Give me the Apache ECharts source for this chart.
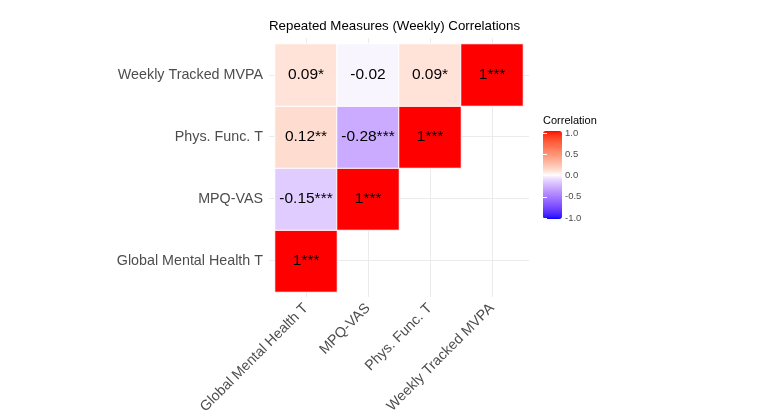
<!DOCTYPE html>
<html>
<head>
<meta charset="utf-8">
<script src="https://cdn.jsdelivr.net/npm/echarts@6/dist/echarts.min.js"></script>
<style>
html,body{margin:0;padding:0;background:#fff;}
#chart{width:770px;height:420px;}
</style>
</head>
<body>
<div id="chart"></div>
<script>
// ---- data ----
const variables = ['Global Mental Health T', 'MPQ-VAS', 'Phys. Func. T', 'Weekly Tracked MVPA'];
const cellX = ['Global Mental Health T','Global Mental Health T','Global Mental Health T','Global Mental Health T',
               'MPQ-VAS','MPQ-VAS','MPQ-VAS',
               'Phys. Func. T','Phys. Func. T',
               'Weekly Tracked MVPA'];
const cellY = ['Global Mental Health T','MPQ-VAS','Phys. Func. T','Weekly Tracked MVPA',
               'MPQ-VAS','Phys. Func. T','Weekly Tracked MVPA',
               'Phys. Func. T','Weekly Tracked MVPA',
               'Weekly Tracked MVPA'];
const corr = [1, -0.15, 0.12, 0.09, 1, -0.28, -0.02, 1, 0.09, 1];
const stars = ['***', '***', '**', '*', '***', '***', '', '***', '*', '***'];
const legendTicks = [-1, -0.5, 0, 0.5, 1];

// ---- Lab gradient (blue - white - red) ----
function hexToRgb(h){return [parseInt(h.slice(1,3),16),parseInt(h.slice(3,5),16),parseInt(h.slice(5,7),16)];}
function toLin(c){c/=255;return c<=0.04045?c/12.92:Math.pow((c+0.055)/1.055,2.4);}
function fromLin(c){c=c<=0.0031308?12.92*c:1.055*Math.pow(c,1/2.4)-0.055;return Math.round(Math.max(0,Math.min(1,c))*255);}
const WX=0.95047, WY=1, WZ=1.08883;
function rgbToLab(rgb){
  const r=toLin(rgb[0]), g=toLin(rgb[1]), b=toLin(rgb[2]);
  const X=(0.4124*r+0.3576*g+0.1805*b)/WX, Y=(0.2126*r+0.7152*g+0.0722*b)/WY, Z=(0.0193*r+0.1192*g+0.9505*b)/WZ;
  const f=t=>t>0.008856?Math.cbrt(t):7.787*t+16/116;
  const fx=f(X), fy=f(Y), fz=f(Z);
  return [116*fy-16, 500*(fx-fy), 200*(fy-fz)];
}
function labToHex(lab){
  const fy=(lab[0]+16)/116, fx=fy+lab[1]/500, fz=fy-lab[2]/200;
  const inv=t=>t*t*t>0.008856?t*t*t:(t-16/116)/7.787;
  const X=inv(fx)*WX, Y=inv(fy)*WY, Z=inv(fz)*WZ;
  const r=3.2406*X-1.5372*Y-0.4986*Z, g=-0.9689*X+1.8758*Y+0.0415*Z, b=0.0557*X-0.2040*Y+1.0570*Z;
  return '#'+[fromLin(r),fromLin(g),fromLin(b)].map(v=>v.toString(16).padStart(2,'0')).join('');
}
const LOW=rgbToLab(hexToRgb('#0000ff')), MID=rgbToLab(hexToRgb('#ffffff')), HIGH=rgbToLab(hexToRgb('#ff0000'));
function gradColor(v){
  const a = v<0?LOW:HIGH, t=Math.pow(Math.abs(v),0.8);
  return labToHex([0,1,2].map(i=>MID[i]+(a[i]-MID[i])*t));
}
const stops=[];
for(let i=0;i<=80;i++){stops.push(gradColor(-1+i*0.025));}

const heatData = corr.map((r,i)=>({
  value:[variables.indexOf(cellX[i]), variables.indexOf(cellY[i]), r],
  label:{formatter: String(r)+stars[i]}
}));

const FONT = 'Liberation Sans, Arial, Helvetica, sans-serif';
const chart = echarts.init(document.getElementById('chart'));
chart.setOption({
  backgroundColor:'#ffffff',
  animation:false,
  title:[
    {text:'Repeated Measures (Weekly) Correlations', left:264, top:15,
     textStyle:{fontFamily:FONT, fontSize:13.3, fontWeight:'normal', color:'#000'}},
    {text:'Correlation', left:538, top:110,
     textStyle:{fontFamily:FONT, fontSize:11, fontWeight:'normal', color:'#000'}}
  ],
  grid:[
    {left:275, top:44, width:248, height:248},   // heatmap
    {left:269, top:38, width:260, height:259},   // panel gridlines
    {left:543, top:133, width:19, height:85}     // colourbar axis
  ],
  xAxis:[
    {type:'category', gridIndex:0, data:variables,
     axisLine:{show:false}, axisTick:{show:false}, splitLine:{show:false},
     axisLabel:{rotate:45, margin:14, fontFamily:FONT, fontSize:14.3, color:'#4d4d4d'}},
    {type:'value', gridIndex:1, min:0.4, max:4.6,
     axisLine:{show:false}, axisTick:{show:false}, axisLabel:{show:false},
     splitLine:{show:true, showMinLine:false, showMaxLine:false, lineStyle:{color:'#ebebeb', width:1}}},
    {type:'value', gridIndex:2, min:0, max:1, show:false}
  ],
  yAxis:[
    {type:'category', gridIndex:0, data:variables,
     axisLine:{show:false}, axisTick:{show:false}, splitLine:{show:false},
     axisLabel:{margin:12, fontFamily:FONT, fontSize:14.3, color:'#4d4d4d'}},
    {type:'value', gridIndex:1, min:0.4, max:4.6,
     axisLine:{show:false}, axisTick:{show:false}, axisLabel:{show:false},
     splitLine:{show:true, showMinLine:false, showMaxLine:false, lineStyle:{color:'#ebebeb', width:1}}},
    {type:'value', gridIndex:2, min:-1, max:1, interval:0.5, position:'right', z:10,
     axisLine:{show:false}, splitLine:{show:false},
     axisTick:{show:true, inside:true, length:4, lineStyle:{color:'#ffffff', width:1}},
     axisLabel:{margin:3, fontFamily:FONT, fontSize:9.5, color:'#4d4d4d',
       formatter:v=>legendTicks.indexOf(v)>=0?v.toFixed(1):''}},
    {type:'value', gridIndex:2, min:-1, max:1, interval:0.5, position:'left', z:10,
     axisLine:{show:false}, splitLine:{show:false}, axisLabel:{show:false},
     axisTick:{show:true, inside:true, length:4, lineStyle:{color:'#ffffff', width:1}}}
  ],
  visualMap:{
    type:'continuous', min:-1, max:1, seriesIndex:0, calculable:false,
    left:543, top:131, itemWidth:19, itemHeight:88, padding:0,
    orient:'vertical', inRange:{color:stops}, text:null, hoverLink:false
  },
  series:[{
    type:'heatmap', xAxisIndex:0, yAxisIndex:0, data:heatData,
    itemStyle:{borderColor:'#ffffff', borderWidth:1},
    label:{show:true, fontFamily:FONT, fontSize:15.5, color:'#000'},
    emphasis:{disabled:true}
  }]
});
</script>
</body>
</html>
